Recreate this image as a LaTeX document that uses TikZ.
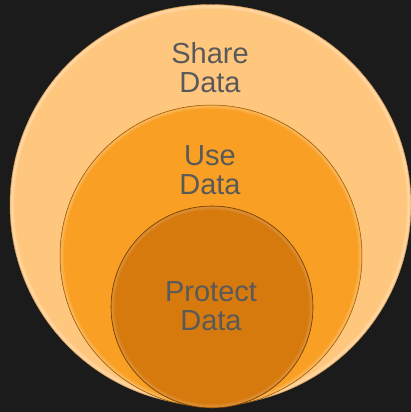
\documentclass[tikz,border=0pt]{standalone}
\usepackage{fontspec}
\setmainfont{Liberation Sans}
\definecolor{bgc}{HTML}{1B1B1B}
\definecolor{outerc}{HTML}{FFC67E}
\definecolor{midc}{HTML}{F9A024}
\definecolor{innerc}{HTML}{D67A0E}
\definecolor{txtc}{HTML}{595959}
\begin{document}
\begin{tikzpicture}[x=1pt,y=1pt,
  ring/.style={circle,inner sep=0pt,minimum size=#1},
  bevel/.style={white,opacity=#1,line width=1.5pt},
  lbl/.style={text=txtc,align=center,font=\fontsize{29}{28.5}\selectfont}]
\fill[bgc] (0,0) rectangle (411,412);
\useasboundingbox (0,0) rectangle (411,412);
% outer
\node[ring=401pt,fill=outerc,draw=outerc!80!black,line width=0.4pt] (outer) at (210.5,207) {};
\draw[bevel=0.3] (210.5,207) circle[radius=198.5];
\draw[bevel=0.15] (210.5,207) circle[radius=197];
% middle
\node[ring=302pt,fill=midc,draw=midc!55!black,line width=0.5pt] (mid) at (211,156) {};
\draw[bevel=0.22] (211,156) circle[radius=149.5];
\draw[bevel=0.1] (211,156) circle[radius=148];
% inner
\node[ring=202pt,fill=innerc,draw=innerc!50!black,line width=0.6pt] (inner) at (212,105) {};
\draw[bevel=0.15] (212,105) circle[radius=99.5];
\draw[bevel=0.07] (212,105) circle[radius=98];
% labels
\node[lbl] (share) at (210,344.5) {Share\\Data};
\node[lbl] (use) at (210,242) {Use\\Data};
\node[lbl] (protect) at (211,106) {Protect\\Data};
\end{tikzpicture}
\end{document}
